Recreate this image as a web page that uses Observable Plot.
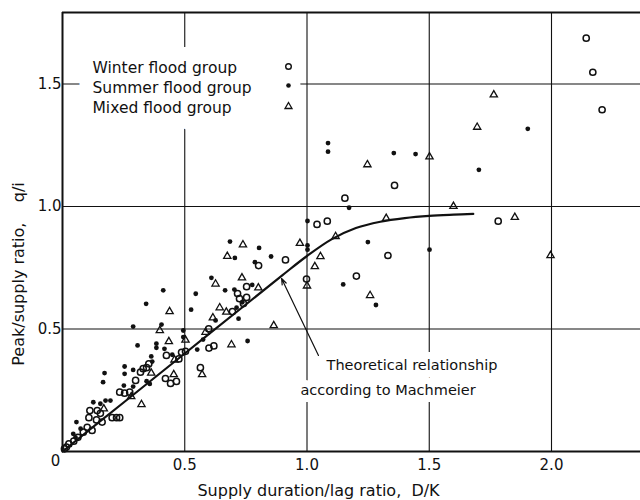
<!DOCTYPE html>
<html>
<head>
<meta charset="utf-8">
<script src="https://cdn.jsdelivr.net/npm/d3@7"></script>
<script src="https://cdn.jsdelivr.net/npm/@observablehq/plot@0.6"></script>
<style>
  html, body { margin: 0; padding: 0; background: #fff; }
  #chart { width: 640px; height: 500px; }
</style>
</head>
<body>
<div id="chart"></div>
<script>
// ---- Data (D/K, q/i) ----
const groupLabels = ["Winter flood group", "Summer flood group", "Mixed flood group"];

const winterX = [2.142,2.169,2.207,1.358,1.155,1.041,1.083,1.782,1.331,0.912,0.802,1.202,0.998,
  0.753,0.716,0.724,0.753,0.740,0.599,0.619,0.564,0.487,0.503,0.476,0.425,0.353,0.344,0.319,0.330,
  0.299,0.421,0.442,0.466,0.234,0.254,0.275,0.112,0.108,0.142,0.155,0.203,0.221,0.234,0.139,0.162,
  0.101,0.121,0.085,0.063,0.046,0.026,0.016,0.008,0.598,0.695];
const winterY = [1.687,1.548,1.395,1.086,1.034,0.927,0.940,0.940,0.800,0.782,0.759,0.716,0.704,
  0.673,0.645,0.624,0.629,0.604,0.422,0.431,0.342,0.405,0.409,0.378,0.392,0.358,0.342,0.324,0.338,
  0.290,0.298,0.278,0.286,0.242,0.238,0.242,0.167,0.138,0.167,0.156,0.138,0.138,0.138,0.129,0.120,
  0.099,0.086,0.079,0.058,0.042,0.031,0.018,0.011,0.501,0.571];

const summerX = [1.086,1.086,1.355,1.444,1.703,1.903,1.172,1.002,1.002,1.002,1.249,1.501,1.148,1.282,
  0.685,0.804,0.705,0.787,0.853,0.609,0.776,0.412,0.545,0.665,0.703,0.735,0.712,0.526,0.342,0.626,
  0.720,0.405,0.289,0.494,0.494,0.757,0.575,0.551,0.307,0.384,0.384,0.417,0.363,0.449,0.254,0.289,
  0.172,0.254,0.166,0.251,0.344,0.357,0.289,0.126,0.155,0.176,0.196,0.057,0.074,0.044,0.053,0.367];
const summerY = [1.259,1.224,1.218,1.214,1.150,1.317,0.995,0.941,0.841,0.824,0.855,0.824,0.682,0.598,
  0.857,0.831,0.790,0.773,0.796,0.709,0.680,0.658,0.644,0.658,0.661,0.609,0.587,0.579,0.603,0.535,
  0.542,0.518,0.510,0.494,0.467,0.451,0.457,0.416,0.433,0.440,0.423,0.419,0.388,0.395,0.347,0.333,
  0.320,0.317,0.283,0.269,0.287,0.276,0.265,0.201,0.195,0.208,0.208,0.120,0.093,0.072,0.058,0.367];

const mixedX = [1.764,1.696,1.247,1.501,1.599,1.324,1.850,0.971,0.738,1.117,1.055,1.032,1.000,1.258,
  1.996,0.674,0.626,0.734,0.801,0.864,0.438,0.643,0.670,0.615,0.435,0.503,0.585,0.691,0.458,0.571,
  0.455,0.363,0.323,0.281,0.169,0.398];
const mixedY = [1.456,1.324,1.171,1.203,1.001,0.952,0.956,0.850,0.844,0.878,0.796,0.755,0.676,0.637,
  0.800,0.797,0.684,0.709,0.668,0.514,0.571,0.587,0.569,0.546,0.449,0.455,0.487,0.436,0.374,0.314,
  0.314,0.320,0.192,0.224,0.174,0.494];

// Theoretical relationship according to Machmeier
const curveX = [0, 0.25, 0.5, 0.75, 0.9, 1.0, 1.1, 1.2, 1.3, 1.4, 1.5, 1.6, 1.68];
const curveY = [0, 0.20, 0.40, 0.60, 0.72, 0.798, 0.866, 0.912, 0.938, 0.953, 0.962, 0.967, 0.970];

const xTicks = [0.5, 1.0, 1.5, 2.0];
const yTicks = [0.5, 1.0, 1.5];
const xMax = 2.364, yMax = 1.792;

// ---- Build tables ----
const zip = (xs, ys) => xs.map((x, i) => ({x, y: ys[i]}));
const winter = zip(winterX, winterY);
const summer = zip(summerX, summerY);
const mixed = zip(mixedX, mixedY);
const curve = zip(curveX, curveY);

const annot = [
  {x1: 1.047, y1: 0.392, x2: 0.896, y2: 0.706}
];
const annotText = [
  {x: 1.08, y: 0.351, text: "Theoretical relationship"},
  {x: 0.973, y: 0.249, text: "according to Machmeier"}
];

const ink = "#111";
const legendDy = [54, 73, 94];

const chart = Plot.plot({
  width: 640,
  height: 500,
  marginLeft: 62,
  marginRight: 0,
  marginTop: 12,
  marginBottom: 49,
  style: {fontFamily: "DejaVu Sans", fontSize: "15px", background: "white", color: ink},
  x: {domain: [0, xMax], label: null},
  y: {domain: [0, yMax], label: null},
  marks: [
    // grid
    Plot.ruleX(xTicks, {stroke: ink, strokeWidth: 1.1}),
    Plot.ruleY(yTicks, {stroke: ink, strokeWidth: 1.1}),
    // white cut-outs in the grid behind legend and annotation
    Plot.text([groupLabels.join("\n")], {frameAnchor: "top-left", dx: 30, dy: 46, textAnchor: "start",
      lineAnchor: "top", lineHeight: 1.3, fontSize: 15.5, letterSpacing: 0.4, stroke: "white", strokeWidth: 28, strokeLinejoin: "round", fill: "white"}),
    ...legendDy.map(dy => Plot.dot([0], {frameAnchor: "top-left", dx: 214, dy, r: 24, fill: "white", stroke: "none"})),
    Plot.text(annotText, {x: "x", y: "y", text: "text", textAnchor: "start", fontSize: 14.5,
      stroke: "white", strokeWidth: 14, fill: "white"}),
    // frame (left, bottom, top)
    Plot.ruleX([0], {stroke: ink, strokeWidth: 2}),
    Plot.ruleY([0, yMax], {stroke: ink, strokeWidth: 2}),
    // theoretical curve
    Plot.line(curve, {x: "x", y: "y", curve: "catmull-rom", stroke: ink, strokeWidth: 2.2}),
    Plot.arrow(annot, {x1: "x1", y1: "y1", x2: "x2", y2: "y2", stroke: ink, strokeWidth: 1.2, headLength: 8, headAngle: 40}),
    // data
    Plot.dot(winter, {x: "x", y: "y", symbol: "circle", r: 3.1, stroke: ink, strokeWidth: 1.5, fill: "none"}),
    Plot.dot(summer, {x: "x", y: "y", symbol: "circle", r: 2.4, fill: ink, stroke: "none"}),
    Plot.dot(mixed, {x: "x", y: "y", symbol: "triangle", r: 2.7, stroke: ink, strokeWidth: 1.3, fill: "none"}),
    // legend
    Plot.text([groupLabels.join("\n")], {frameAnchor: "top-left", dx: 30, dy: 46, textAnchor: "start",
      lineAnchor: "top", lineHeight: 1.3, fontSize: 15.5, letterSpacing: 0.4, fill: ink}),
    Plot.dot([groupLabels[0]], {frameAnchor: "top-left", dx: 226, dy: legendDy[0], symbol: "circle", r: 2.8, stroke: ink, strokeWidth: 1.4, fill: "none"}),
    Plot.dot([groupLabels[1]], {frameAnchor: "top-left", dx: 226, dy: legendDy[1], symbol: "circle", r: 2.3, fill: ink}),
    Plot.dot([groupLabels[2]], {frameAnchor: "top-left", dx: 226, dy: legendDy[2], symbol: "triangle", r: 2.6, stroke: ink, strokeWidth: 1.3, fill: "none"}),
    // annotation text
    Plot.text(annotText, {x: "x", y: "y", text: "text", textAnchor: "start", fontSize: 14.5, fill: ink}),
    // axes
    Plot.axisX(xTicks, {tickSize: 0, tickPadding: 8, tickFormat: d3.format(".1f"), fontSize: 15, label: null}),
    Plot.axisX([0], {tickSize: 0, tickPadding: 4, tickFormat: d => "0", dx: -7, fontSize: 15, label: null}),
    Plot.axisY(yTicks, {tickSize: 0, tickPadding: 1, tickFormat: d3.format(".1f"), fontSize: 15, label: null}),
    // axis titles
    Plot.text(["Supply duration/lag ratio,  D/K"], {frameAnchor: "bottom", dx: -33, dy: 39, fontSize: 16, lineAnchor: "middle", fill: ink}),
    Plot.text(["Peak/supply ratio,\u00A0\u00A0\u00A0 q/i"], {frameAnchor: "left", textAnchor: "middle", dx: -44, dy: 42, rotate: -90, fontSize: 16, lineAnchor: "middle", fill: ink})
  ]
});

document.getElementById("chart").appendChild(chart);
</script>
</body>
</html>
